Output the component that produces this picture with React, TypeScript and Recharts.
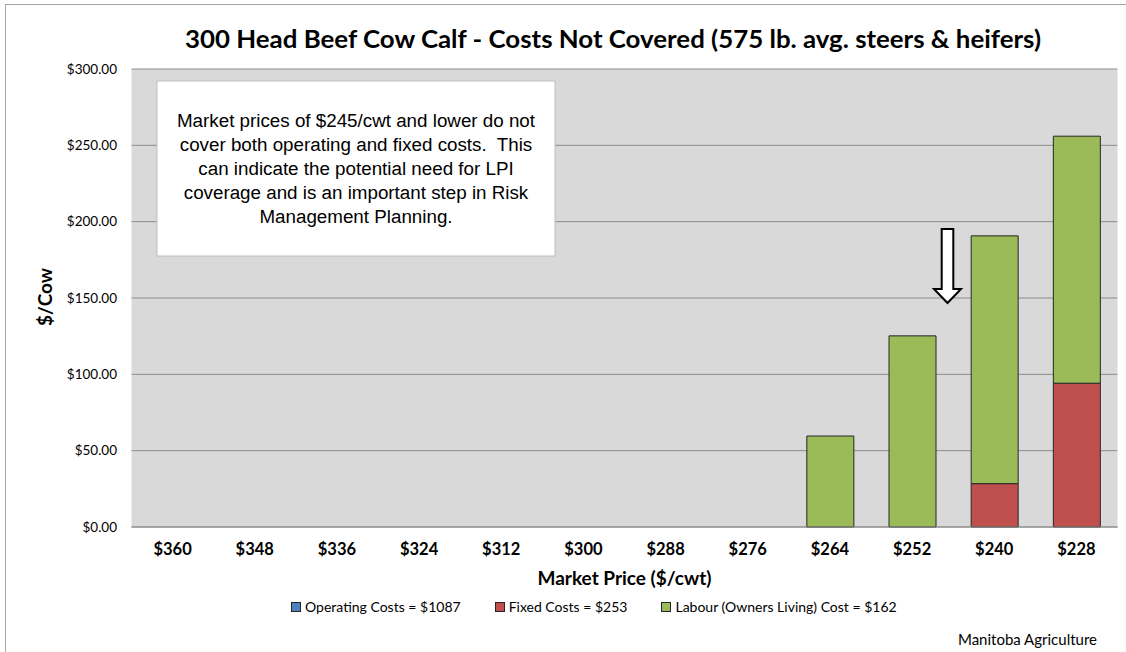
import React from 'react';
import { BarChart, Bar, XAxis, YAxis, CartesianGrid, Legend } from 'recharts';

const categories = ['$360', '$348', '$336', '$324', '$312', '$300', '$288', '$276', '$264', '$252', '$240', '$228'];
const operatingCosts = [0, 0, 0, 0, 0, 0, 0, 0, 0, 0, 0, 0];
const fixedCosts = [0, 0, 0, 0, 0, 0, 0, 0, 0, 0, 28.4, 94.2];
const labourCosts = [0, 0, 0, 0, 0, 0, 0, 0, 59.6, 125.2, 162.3, 161.8];
const yTicks = [0, 50, 100, 150, 200, 250, 300];

const seriesNames = ['Operating Costs = $1087', 'Fixed Costs = $253', 'Labour (Owners Living) Cost = $162'];
const seriesColors = ['#4F81BD', '#C0504D', '#9BBB59'];

const titleText = '300 Head Beef Cow Calf - Costs Not Covered (575 lb. avg. steers & heifers)';
const noteLines = [
  'Market prices of $245/cwt and lower do not',
  'cover both operating and fixed costs.  This',
  'can indicate the potential need for LPI',
  'coverage and is an important step in Risk',
  'Management Planning.',
];

const data = categories.map((c, i) => ({
  price: c,
  operating: operatingCosts[i],
  fixed: fixedCosts[i],
  labour: labourCosts[i],
}));

const CAL = 'Lato, "Open Sans", sans-serif';

const LegendContent = (props: any) => {
  const payload = [...(props.payload || [])].sort(
    (a: any, b: any) => seriesNames.indexOf(a.value) - seriesNames.indexOf(b.value)
  );
  return (
    <div style={{ display: 'flex', alignItems: 'center', fontFamily: CAL, fontSize: 14, color: '#000', whiteSpace: 'nowrap' }}>
      {payload.map((p: any, i: number) => (
        <div key={i} style={{ display: 'flex', alignItems: 'center', marginRight: 34 }}>
          <span style={{ display: 'inline-block', width: 8, height: 8, background: p.color, border: '1px solid #262626', marginRight: 4 }} />
          <span>{p.value}</span>
        </div>
      ))}
    </div>
  );
};

export default function App() {
  return (
    <div style={{ position: 'absolute', left: 0, top: 0, width: 1126, height: 652, background: '#fff', overflow: 'hidden' }}>
      <BarChart
        width={1126}
        height={652}
        data={data}
        margin={{ top: 69, right: 8.5, left: 0, bottom: 65 }}
        barSize={47}
      >
        <CartesianGrid vertical={false} stroke="#8C8C8C" fill="#D9D9D9" />
        <XAxis
          dataKey="price"
          height={60}
          tickLine={false}
          axisLine={{ stroke: '#8C8C8C' }}
          tickMargin={10}
          tick={{ fontFamily: CAL, fontSize: 16.5, fontWeight: 700, fill: '#000' }}
          label={{ value: 'Market Price ($/cwt)', position: 'insideBottom', offset: 2, style: { fontFamily: CAL, fontSize: 19, fontWeight: 700, fill: '#000' } }}
        />
        <YAxis
          width={131.5}
          domain={[0, 300]}
          ticks={yTicks}
          tickLine={false}
          axisLine={false}
          tickMargin={8.5}
          tickFormatter={(v: number) => `$${v.toFixed(2)}`}
          tick={{ fontFamily: CAL, fontSize: 13.5, fill: '#000' }}
        />
        <Legend
          layout="horizontal"
          verticalAlign="middle"
          align="center"
          content={LegendContent}
          wrapperStyle={{ position: 'absolute', left: 291, top: 598, bottom: 'auto', width: 'auto' }}
        />
        <Bar dataKey="operating" name={seriesNames[0]} stackId="a" fill={seriesColors[0]} stroke="#262626" strokeWidth={1} isAnimationActive={false} />
        <Bar dataKey="fixed" name={seriesNames[1]} stackId="a" fill={seriesColors[1]} stroke="#262626" strokeWidth={1} isAnimationActive={false} />
        <Bar dataKey="labour" name={seriesNames[2]} stackId="a" fill={seriesColors[2]} stroke="#262626" strokeWidth={1} isAnimationActive={false} />
      </BarChart>
      <svg width={1126} height={652} style={{ position: 'absolute', left: 0, top: 0, pointerEvents: 'none' }}>
        <rect x={5.5} y={4.5} width={1130} height={660} fill="none" stroke="#A6A6A6" strokeWidth={1} />
        <text x={613} y={48} textAnchor="middle" fontFamily={CAL} fontSize={25} fontWeight={700} fill="#000" textLength={856} lengthAdjust="spacingAndGlyphs">
          {titleText}
        </text>
        <text x={0} y={0} transform="translate(52,297) rotate(-90)" textAnchor="middle" fontFamily={CAL} fontSize={19} fontWeight={700} fill="#000">
          $/Cow
        </text>
        <rect x={157} y={81} width={398} height={175} fill="#fff" stroke="#BFBFBF" strokeWidth={1} />
        {noteLines.map((l, i) => (
          <text key={i} x={356} y={127 + i * 24} textAnchor="middle" fontFamily='"Liberation Sans", Arial, sans-serif' fontSize={18.8} fill="#000" style={{ whiteSpace: 'pre' }}>
            {l}
          </text>
        ))}
        <path d="M941.7,229 L953.3,229 L953.3,289 L961,289 L947.5,303 L934,289 L941.7,289 Z" fill="#fff" stroke="#000" strokeWidth={2} strokeLinejoin="miter" />
        <text x={1097} y={645} textAnchor="end" fontFamily={CAL} fontSize={15} fill="#000">
          Manitoba Agriculture
        </text>
      </svg>
    </div>
  );
}
